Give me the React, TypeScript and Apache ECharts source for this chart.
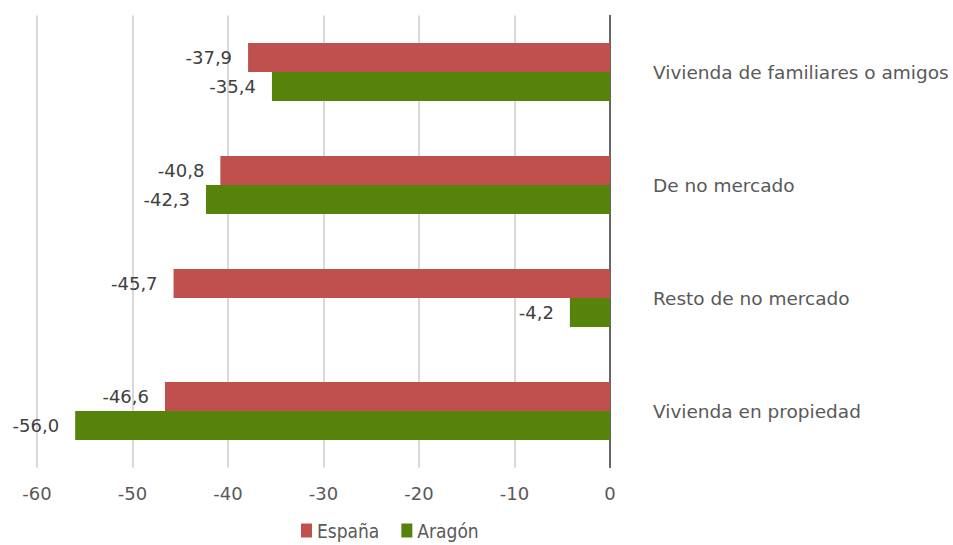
import React, { useEffect, useRef } from "react";
import * as echarts from "echarts";

const categories = [
  "Vivienda de familiares o amigos",
  "De no mercado",
  "Resto de no mercado",
  "Vivienda en propiedad",
];
const espana = [-37.9, -40.8, -45.7, -46.6];
const aragon = [-35.4, -42.3, -4.2, -56.0];
const xTicks = [-60, -50, -40, -30, -20, -10, 0];

export default function App() {
  const ref = useRef<HTMLDivElement>(null);
  useEffect(() => {
    const chart = echarts.init(ref.current!, null, { renderer: "svg" });
    const font = "'DejaVu Sans', sans-serif";
    const labelCfg = {
      show: true,
      position: "left" as const,
      distance: 16,
      color: "#404040",
      fontSize: 18,
      fontFamily: font,
      formatter: (p: any) => Number(p.value).toFixed(1).replace(".", ","),
    };
    chart.setOption({
      animation: false,
      backgroundColor: "#ffffff",
      grid: { left: 37, right: 343, top: 15.5, bottom: 77.5, containLabel: false },
      legend: {
        left: 296,
        top: 516,
        padding: 5,
        itemWidth: 11,
        itemHeight: 14,
        itemGap: 22,
        icon: "rect",
        textStyle: {
          fontSize: 19,
          lineHeight: 19,
          color: "#595959",
          fontFamily: "'DejaVu Sans Condensed', 'DejaVu Sans', sans-serif",
        },
        data: ["España", "Aragón"],
      },
      xAxis: {
        type: "value",
        min: xTicks[0],
        max: xTicks[xTicks.length - 1],
        interval: 10,
        axisLine: { show: false },
        axisTick: { show: false },
        axisLabel: { color: "#595959", fontSize: 18, fontFamily: font, margin: 17 },
        splitLine: { show: true, lineStyle: { color: "#d9d9d9", width: 2 } },
      },
      yAxis: {
        type: "category",
        data: categories,
        inverse: true,
        position: "right",
        axisLine: { show: true, onZero: false, lineStyle: { color: "#404040", width: 1.5 } },
        axisTick: { show: false },
        axisLabel: { color: "#595959", fontSize: 18.5, fontFamily: font, margin: 43, align: "left" },
        splitLine: { show: false },
      },
      series: [
        {
          name: "España",
          type: "bar",
          data: espana,
          barWidth: 29,
          barGap: "0%",
          itemStyle: { color: "#C0504D" },
          label: labelCfg,
        },
        {
          name: "Aragón",
          type: "bar",
          data: aragon,
          barWidth: 29,
          barGap: "0%",
          itemStyle: { color: "#56830A" },
          label: labelCfg,
        },
      ],
    });
    return () => chart.dispose();
  }, []);
  return <div ref={ref} style={{ position: "fixed", left: 0, top: 0, width: 953, height: 545 }} />;
}
